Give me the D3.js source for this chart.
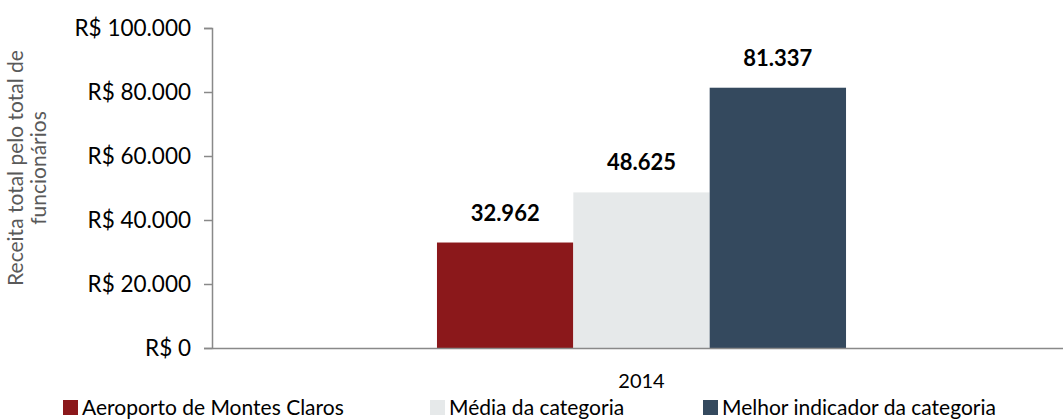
<!DOCTYPE html>
<html>
<head>
<meta charset="utf-8">
<script src="https://cdn.jsdelivr.net/npm/d3@7"></script>
<style>
  body { margin: 0; background: #fff; }
  svg, svg text { font-family: Lato, "Open Sans", sans-serif; }
</style>
</head>
<body>
<div id="chart"></div>
<script>
// data
const categories = ['2014'];
const seriesNames = ['Aeroporto de Montes Claros', 'Média da categoria', 'Melhor indicador da categoria'];
const seriesValues = [32962, 48625, 81337];
const seriesColors = ['#8b181b', '#e6e9ea', '#34495e'];
const yTicks = [0, 20000, 40000, 60000, 80000, 100000];

const width = 1063, height = 420;
const margin = { top: 28, right: 0, bottom: 72, left: 212 };

const svg = d3.select('#chart').append('svg')
  .attr('width', width)
  .attr('height', height);

const y = d3.scaleLinear().domain([0, 100000]).range([height - margin.bottom, margin.top]);
const x = d3.scaleBand().domain(categories).range([margin.left, width + 8]).paddingInner(0).paddingOuter(0.55);
const xs = d3.scaleBand().domain(seriesNames).range([0, x.bandwidth()]);

const fmt = v => d3.format(',')(v).replace(/,/g, '.');

// y axis
const yAxis = svg.append('g')
  .attr('transform', `translate(${margin.left},0)`)
  .call(d3.axisLeft(y).tickValues(yTicks).tickSize(8).tickPadding(13).tickFormat(d => 'R$ ' + fmt(d)));
yAxis.attr('font-family', null);
yAxis.select('.domain').attr('stroke', '#898989').attr('stroke-width', 1.5);
yAxis.selectAll('.tick line').attr('stroke', '#898989').attr('stroke-width', 1.5);
yAxis.selectAll('.tick text').attr('fill', '#000').style('font-size', '22.5px').attr('dy', '0.34em');

// bars
const g = svg.append('g');
g.selectAll('rect')
  .data(seriesValues)
  .enter().append('rect')
  .attr('x', (d, i) => x(categories[0]) + xs(seriesNames[i]))
  .attr('width', xs.bandwidth())
  .attr('y', d => y(d))
  .attr('height', d => y(0) - y(d))
  .attr('fill', (d, i) => seriesColors[i]);

g.selectAll('text')
  .data(seriesValues)
  .enter().append('text')
  .attr('x', (d, i) => x(categories[0]) + xs(seriesNames[i]) + xs.bandwidth() / 2)
  .attr('y', d => y(d) - 22)
  .attr('text-anchor', 'middle')
  .style('font-size', '22px')
  .style('font-weight', 'bold')
  .attr('fill', '#000')
  .text(d => fmt(d));

// x axis
const xAxis = svg.append('g')
  .attr('transform', `translate(0,${y(0)})`)
  .call(d3.axisBottom(x).tickSize(0).tickPadding(26));
xAxis.attr('font-family', null);
xAxis.select('.domain').attr('stroke', '#898989').attr('stroke-width', 1.5);
xAxis.selectAll('.tick text').attr('fill', '#000').style('font-size', '20px');

// y axis title
const title = svg.append('text')
  .attr('transform', `translate(30,168) rotate(-90)`)
  .attr('text-anchor', 'middle')
  .attr('fill', '#595959')
  .style('font-size', '21px');
title.append('tspan').attr('x', 0).attr('dy', '-0.32em').text('Receita total pelo total de');
title.append('tspan').attr('x', 0).attr('dy', '1.1em').text('funcionários');

// legend
const legendX = [63, 430, 703];
const legend = svg.append('g').selectAll('g')
  .data(seriesNames)
  .enter().append('g')
  .attr('transform', (d, i) => `translate(${legendX[i]},400)`);
legend.append('rect').attr('width', 15).attr('height', 15).attr('fill', (d, i) => seriesColors[i]);
legend.append('text')
  .attr('x', 19).attr('y', 15)
  .attr('fill', '#000')
  .style('font-size', '21px')
  .text(d => d);
</script>
</body>
</html>
